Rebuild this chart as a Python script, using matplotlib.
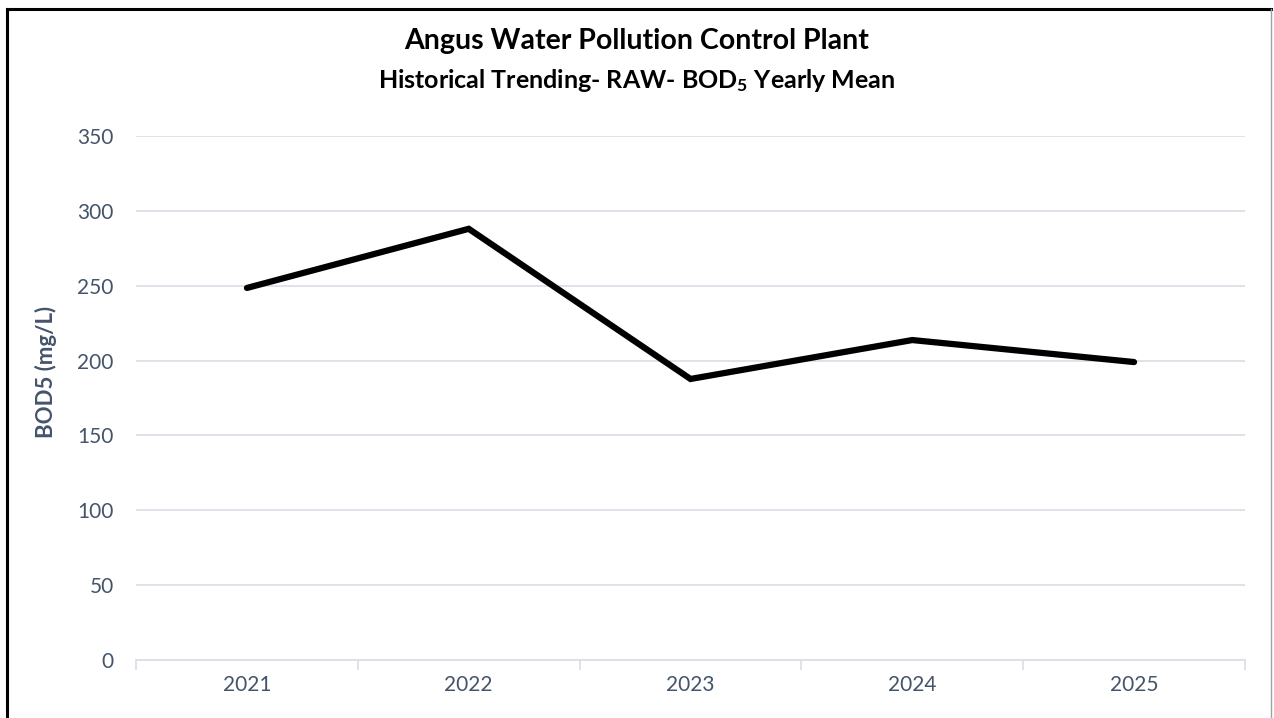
import numpy as np
import matplotlib.pyplot as plt
from matplotlib.lines import Line2D

# ----------------------------
# Data
# ----------------------------
years = ["2021", "2022", "2023", "2024", "2025"]
bod5_mean = [248.5, 288.0, 187.7, 213.7, 199.0]
y_ticks = [0, 50, 100, 150, 200, 250, 300, 350]

title_main = "Angus Water Pollution Control Plant"
title_sub = "Historical Trending- RAW- BOD$_\\mathregular{5}$ Yearly Mean"
y_label = "BOD5 (mg/L)"

# ----------------------------
# Style
# ----------------------------
plt.rcParams["font.family"] = ["Lato", "DejaVu Sans"]
plt.rcParams["mathtext.default"] = "regular"
label_col = "#44546A"
grid_col = "#D9DEE5"

fig = plt.figure(figsize=(12.74, 7.18), dpi=100)
ax = fig.add_axes([0.1068, 0.0808, 0.8704, 0.7298])

x = np.arange(1, len(years) + 1)
ax.plot(x, bod5_mean, color="black", linewidth=4.5,
        solid_capstyle="round", solid_joinstyle="miter")

ax.set_xlim(0.5, len(years) + 0.5)
ax.set_ylim(0, 350)
ax.set_yticks(y_ticks)
ax.set_xticks(x)
ax.set_xticklabels(years)
ax.set_xticks(np.arange(0.5, len(years) + 1), minor=True)

ax.grid(axis="y", color=grid_col, linewidth=1.2)
ax.set_axisbelow(True)
for s in ["top", "right", "left"]:
    ax.spines[s].set_visible(False)
ax.spines["bottom"].set_color(grid_col)
ax.spines["bottom"].set_linewidth(1.2)

ax.tick_params(axis="x", which="major", length=0, pad=11,
               labelsize=15, labelcolor=label_col)
ax.tick_params(axis="x", which="minor", length=7, width=1.2, color=grid_col)
ax.tick_params(axis="y", length=0, pad=16, labelsize=15, labelcolor=label_col)

ax.set_ylabel(y_label, fontsize=16, fontweight="bold", color=label_col,
              va="center")
ax.yaxis.set_label_coords(-0.081, 0.55)

# titles
fig.text(0.5, 0.943, title_main, ha="center", va="center",
         fontsize=20.5, fontweight="bold", color="black")
fig.text(0.5, 0.888, title_sub, ha="center", va="center",
         fontsize=18, fontweight="bold", color="black")

# chart frame
fig.add_artist(Line2D([0.0055, 0.0055], [0.0, 0.988], transform=fig.transFigure,
                      color="black", linewidth=2.2))
fig.add_artist(Line2D([0.0055, 0.998], [0.987, 0.987], transform=fig.transFigure,
                      color="black", linewidth=2.2))
fig.add_artist(Line2D([0.9975, 0.9975], [0.0, 0.987], transform=fig.transFigure,
                      color="#A0A0A0", linewidth=1.0))

fig.savefig("out.png", dpi=100)
